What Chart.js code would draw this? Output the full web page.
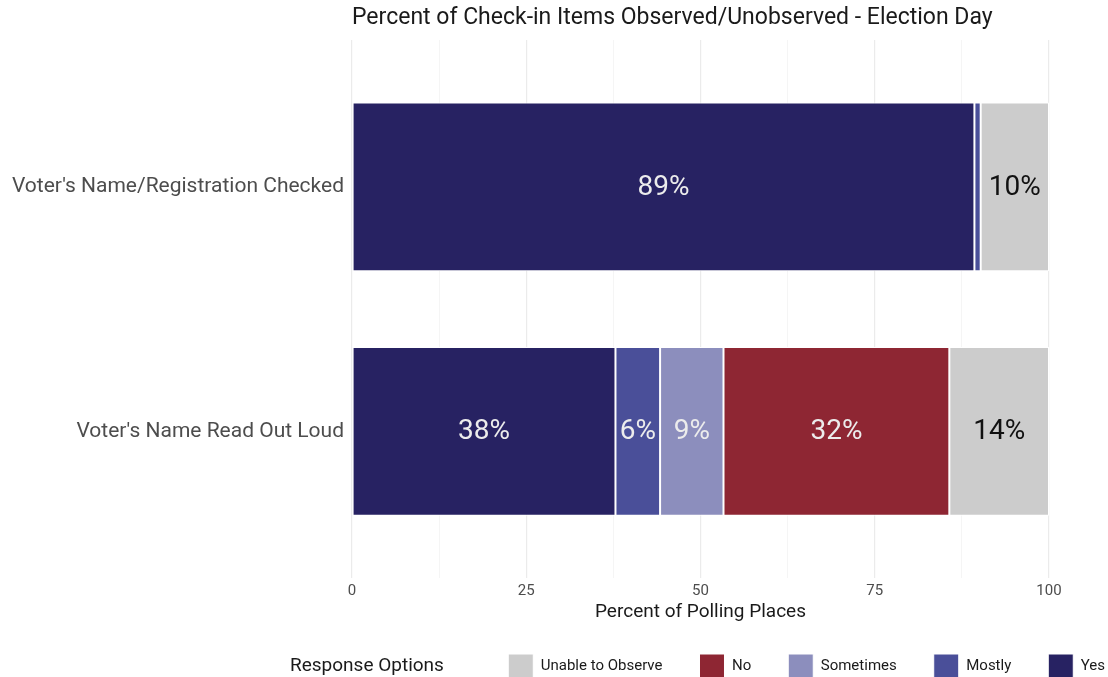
<!DOCTYPE html>
<html>
<head>
<meta charset="utf-8">
<script src="https://cdn.jsdelivr.net/npm/chart.js@4.4.0/dist/chart.umd.min.js"></script>
<style>
  html, body { margin: 0; padding: 0; background: #fff; }
  #wrap { width: 1108px; height: 677px; position: relative; }
</style>
</head>
<body>
<div id="wrap"><canvas id="checkinChart"></canvas></div>
<script>
// --- DATA ---
const chartTitle = "Percent of Check-in Items Observed/Unobserved - Election Day";
const items = ["Voter's Name/Registration Checked", "Voter's Name Read Out Loud"];
const responses = ["Yes", "Mostly", "Sometimes", "No", "Unable to Observe"];
const yesVals = [89.3, 37.8];
const mostlyVals = [0.9, 6.4];
const sometimesVals = [0, 9.1];
const noVals = [0, 32.4];
const unableVals = [9.8, 14.3];
const xTicks = [0, 25, 50, 75, 100];

const colors = {
  "Yes": "#272262",
  "Mostly": "#4a4f99",
  "Sometimes": "#8c8ebd",
  "No": "#8e2633",
  "Unable to Observe": "#cccccc",
};
const seriesVals = [yesVals, mostlyVals, sometimesVals, noVals, unableVals];

const FONT = "Roboto, 'Open Sans', sans-serif";

// --- PLUGINS ---
// bar value labels
const barLabels = {
  id: "barLabels",
  afterDatasetsDraw(chart) {
    const ctx = chart.ctx;
    ctx.save();
    ctx.font = "28px " + FONT;
    ctx.textAlign = "center";
    ctx.textBaseline = "middle";
    chart.data.datasets.forEach((ds, i) => {
      const meta = chart.getDatasetMeta(i);
      meta.data.forEach((bar, j) => {
        const v = ds.data[j].x;
        if (v < 3) return;
        const p = bar.getCenterPoint();
        ctx.fillStyle = ds.label === "Unable to Observe" ? "#111" : "#ececec";
        ctx.fillText(Math.round(v) + "%", p.x, p.y + 1);
      });
    });
    ctx.restore();
  },
};

// title aligned with panel + inline legend title
const extraText = {
  id: "extraText",
  afterDraw(chart) {
    const ctx = chart.ctx;
    ctx.save();
    ctx.fillStyle = "#1a1a1a";
    ctx.textBaseline = "middle";
    ctx.textAlign = "left";
    ctx.font = "23px " + FONT;
    ctx.fillText(chartTitle, chart.chartArea.left, 18);
    const hb = chart.legend.legendHitBoxes[0];
    if (hb) {
      ctx.font = "19px " + FONT;
      ctx.fillText("Response Options", 290, hb.top + hb.height / 2);
    }
    ctx.restore();
  },
};

// --- CHART ---
function initChart() {
  const ctx = document.getElementById("checkinChart");

  new Chart(ctx, {
    type: "bar",
    data: {
      datasets: responses.map((r, i) => ({
        label: r,
        data: seriesVals[i].map((v, j) => ({ x: v, y: j + 1 })),
        backgroundColor: colors[r],
        borderColor: "#ffffff",
        borderWidth: 1,
        borderSkipped: false,
        categoryPercentage: 1,
        barPercentage: 0.69,
      })),
    },
    options: {
      indexAxis: "y",
      responsive: true,
      maintainAspectRatio: false,
      animation: false,
      layout: { padding: { left: 0, right: -34, top: 40, bottom: -12 } },
      plugins: {
        legend: {
          position: "bottom",
          align: "end",
          reverse: true,
          labels: {
            boxWidth: 25,
            boxHeight: 25,
            padding: 37,
            color: "#1a1a1a",
            font: { family: FONT, size: 15 },
          },
        },
        tooltip: { enabled: false },
      },
      scales: {
        x: {
          type: "linear",
          stacked: true,
          min: 0,
          max: 100,
          afterBuildTicks: (s) => {
            const t = [];
            for (let v = 0; v <= 100; v += 12.5) t.push({ value: v });
            s.ticks = t;
          },
          ticks: {
            autoSkip: false,
            maxRotation: 0,
            color: "#4d4d4d",
            font: { family: FONT, size: 15 },
            padding: 4,
            callback: (v) => (xTicks.includes(v) ? String(v) : ""),
          },
          grid: {
            drawTicks: false,
            color: (c) => (xTicks.includes(c.tick.value) ? "#ebebeb" : "#f3f3f3"),
            lineWidth: (c) => (xTicks.includes(c.tick.value) ? 1.2 : 0.8),
          },
          border: { display: false },
          title: {
            display: true,
            text: "Percent of Polling Places",
            color: "#1a1a1a",
            font: { family: FONT, size: 19 },
            padding: { top: -3, bottom: -7 },
          },
        },
        y: {
          type: "linear",
          stacked: true,
          reverse: true,
          offset: false,
          min: 0.4,
          max: 2.6,
          afterBuildTicks: (s) => {
            s.ticks = items.map((_, i) => ({ value: i + 1 }));
          },
          afterFit: (s) => { s.width = 352; },
          ticks: {
            autoSkip: false,
            color: "#4d4d4d",
            font: { family: FONT, size: 21 },
            padding: 8,
            callback: (v) => items[v - 1] || "",
          },
          grid: { display: false, drawTicks: false },
          border: { display: false },
        },
        // empty right margin so the legend can run wider than the panel
        yRight: {
          type: "linear",
          axis: "y",
          position: "right",
          display: true,
          ticks: { display: false },
          grid: { display: false, drawTicks: false },
          border: { display: false },
          afterFit: (s) => { s.width = 93; },
        },
      },
    },
    plugins: [barLabels, extraText],
  });
}

document.addEventListener("DOMContentLoaded", initChart);
</script>
</body>
</html>
